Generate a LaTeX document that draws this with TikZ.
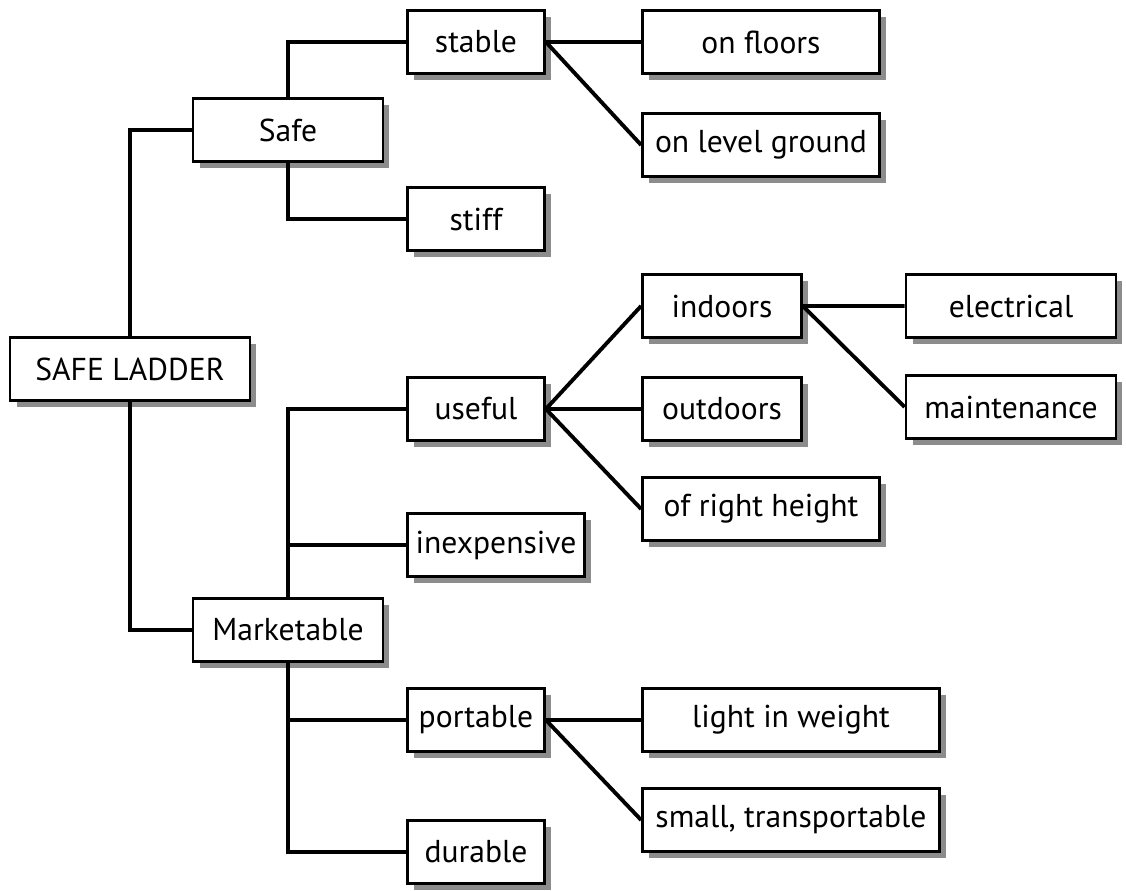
\documentclass[tikz,border=0pt]{standalone}
\usepackage{fontspec}
\setmainfont{PT Sans}
\usepackage{tikz}
\usetikzlibrary{shadows}

\begin{document}
\begin{tikzpicture}
    [x=0.02cm, y=-0.02cm,
     every node/.style={draw, rectangle, line width=1.6pt, fill=white, minimum height=1.26cm,
                        inner sep=2pt, font=\fontsize{18}{21}\selectfont,
                        drop shadow={shadow xshift=0.13cm, shadow yshift=-0.13cm, fill=black!45, opacity=1}},
     link/.style={draw, line width=2.2pt}]

    \useasboundingbox (0,0) rectangle (1126,891);

    \node[minimum width=4.8cm]  (ladder)   at (130,369) {SAFE LADDER};
    \node[minimum width=3.8cm]  (safe)     at (288,130) {Safe};
    \node[minimum width=3.8cm]  (market)   at (288,630) {Marketable};

    \node[minimum width=2.74cm] (stable)   at (476,42)  {stable};
    \node[minimum width=2.74cm] (stiff)    at (476,219) {stiff};
    \node[minimum width=4.74cm] (floors)   at (761,42)  {on floors};
    \node[minimum width=4.74cm] (level)    at (761,145) {on level ground};

    \node[minimum width=2.74cm] (useful)   at (476,409) {useful};
    \node[minimum width=3.18cm] (indoors)  at (722,306) {indoors};
    \node[minimum width=3.18cm] (outdoors) at (722,409) {outdoors};
    \node[minimum width=4.74cm] (height)   at (761,509) {of right height};
    \node[minimum width=4.2cm]  (elec)     at (1011,306) {electrical};
    \node[minimum width=4.2cm]  (maint)    at (1011,407) {maintenance};
    \node[minimum width=3.54cm] (cheap)    at (496,545) {inexpensive};

    \node[minimum width=2.74cm] (portable) at (476,720) {portable};
    \node[minimum width=5.94cm] (light)    at (791,720) {light in weight};
    \node[minimum width=5.94cm] (small)    at (791,820) {small, transportable};
    \node[minimum width=2.74cm] (durable)  at (476,852) {durable};

    % tree branches
    \path[link] (ladder.north) |- (safe.west)
                (ladder.south) |- (market.west)
                (safe.north) |- (stable.west)
                (safe.south) |- (stiff.west)
                (market.north) |- (useful.west)
                (market.north) |- (cheap.west)
                (market.south) |- (portable.west)
                (market.south) |- (durable.west);

    % fans
    \path[link] (stable.east) -- (floors.west)
                (stable.east) -- (level.west)
                (useful.east) -- (indoors.west)
                (useful.east) -- (outdoors.west)
                (useful.east) -- (height.west)
                (indoors.east) -- (elec.west)
                (indoors.east) -- (maint.west)
                (portable.east) -- (light.west)
                (portable.east) -- (small.west);
\end{tikzpicture}
\end{document}
